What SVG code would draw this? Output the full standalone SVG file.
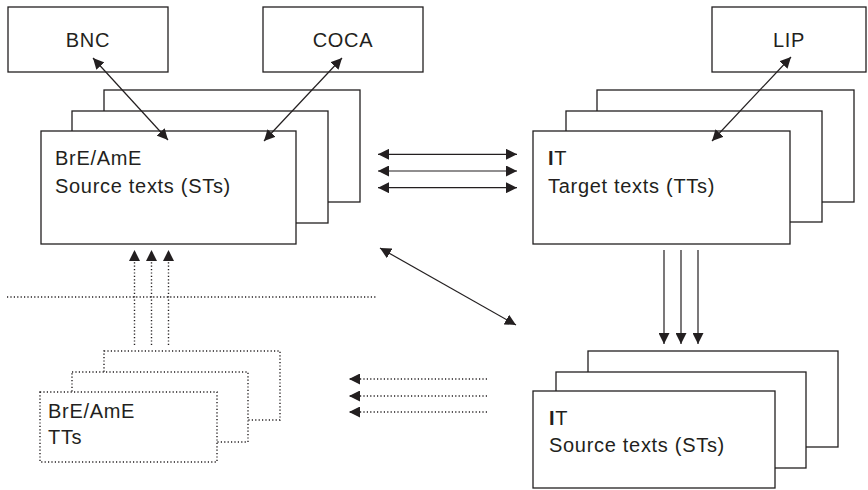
<svg xmlns="http://www.w3.org/2000/svg" width="868" height="490" viewBox="0 0 868 490">
<defs>
<marker id="ah" viewBox="0 0 11 11" refX="11" refY="5.5" markerWidth="11" markerHeight="11" markerUnits="userSpaceOnUse" orient="auto-start-reverse">
<path d="M0,0 L11,5.5 L0,11 Z" fill="#231f20"/>
</marker>
<style>
.box{fill:#fff;stroke:#231f20;stroke-width:1.3}
.dbox{fill:#fff;stroke:#231f20;stroke-width:1.4;stroke-dasharray:1.2 2.2}
.ln{stroke:#231f20;stroke-width:1.2;fill:none}
.dl{stroke:#231f20;stroke-width:1.4;fill:none;stroke-dasharray:1.2 2.2}
text{font-family:"Liberation Sans",Arial,sans-serif;font-size:20px;fill:#231f20;letter-spacing:0.7px}
</style>
</defs>
<rect width="868" height="490" fill="#fff"/>

<g id="bnc">
<rect class="box" x="8" y="7" width="160" height="65"/>
<text x="88" y="47" text-anchor="middle">BNC</text>
</g>
<g id="coca">
<rect class="box" x="263" y="7" width="160" height="65"/>
<text x="343" y="47" text-anchor="middle">COCA</text>
</g>
<g id="lip">
<rect class="box" x="712" y="7" width="154" height="65"/>
<text x="789" y="47" text-anchor="middle">LIP</text>
</g>

<g id="en-st">
<rect class="box" x="104" y="90" width="256" height="112"/>
<rect class="box" x="72" y="111" width="256" height="112"/>
<rect class="box" x="41" y="131" width="255" height="113"/>
<text x="55" y="165">BrE/AmE</text>
<text x="55" y="193">Source texts (STs)</text>
</g>

<g id="it-tt">
<rect class="box" x="597" y="90" width="257" height="112"/>
<rect class="box" x="566" y="111" width="256" height="111"/>
<rect class="box" x="533" y="131" width="257" height="113"/>
<text x="548" y="165"><tspan font-weight="bold">I</tspan>T</text>
<text x="548" y="193">Target texts (TTs)</text>
</g>

<g id="en-tt">
<rect class="dbox" x="104" y="351" width="176" height="69"/>
<rect class="dbox" x="72" y="372" width="176" height="70"/>
<rect class="dbox" x="40" y="392" width="177" height="70"/>
<text x="48" y="418">BrE/AmE</text>
<text x="48" y="444">TTs</text>
</g>

<g id="it-st">
<rect class="box" x="588" y="351" width="250" height="96"/>
<rect class="box" x="556" y="372" width="250" height="96"/>
<rect class="box" x="533" y="391" width="242" height="97"/>
<text x="549" y="425"><tspan font-weight="bold">I</tspan>T</text>
<text x="549" y="452">Source texts (STs)</text>
</g>

<g id="connectors">
<line class="ln" x1="93" y1="58" x2="168" y2="140" marker-start="url(#ah)" marker-end="url(#ah)"/>
<line class="ln" x1="342" y1="58" x2="264" y2="141" marker-start="url(#ah)" marker-end="url(#ah)"/>
<line class="ln" x1="791" y1="57" x2="712" y2="141" marker-start="url(#ah)" marker-end="url(#ah)"/>
<line class="ln" x1="378" y1="154.3" x2="517" y2="154.3" marker-start="url(#ah)" marker-end="url(#ah)"/>
<line class="ln" x1="378" y1="171" x2="517" y2="171" marker-start="url(#ah)" marker-end="url(#ah)"/>
<line class="ln" x1="378" y1="187.7" x2="517" y2="187.7" marker-start="url(#ah)" marker-end="url(#ah)"/>
<line class="ln" x1="380" y1="248" x2="516" y2="325" marker-start="url(#ah)" marker-end="url(#ah)"/>
<line class="ln" x1="664" y1="250" x2="664" y2="344" marker-end="url(#ah)"/>
<line class="ln" x1="681" y1="250" x2="681" y2="344" marker-end="url(#ah)"/>
<line class="ln" x1="698" y1="250" x2="698" y2="344" marker-end="url(#ah)"/>
<line class="dl" x1="7" y1="297" x2="377" y2="297"/>
<line class="dl" x1="134.5" y1="345" x2="134.5" y2="250" marker-end="url(#ah)"/>
<line class="dl" x1="151.5" y1="345" x2="151.5" y2="250" marker-end="url(#ah)"/>
<line class="dl" x1="168.5" y1="345" x2="168.5" y2="250" marker-end="url(#ah)"/>
<line class="dl" x1="487" y1="379" x2="349" y2="379" marker-end="url(#ah)"/>
<line class="dl" x1="487" y1="396" x2="349" y2="396" marker-end="url(#ah)"/>
<line class="dl" x1="487" y1="412" x2="349" y2="412" marker-end="url(#ah)"/>
</g>
</svg>
